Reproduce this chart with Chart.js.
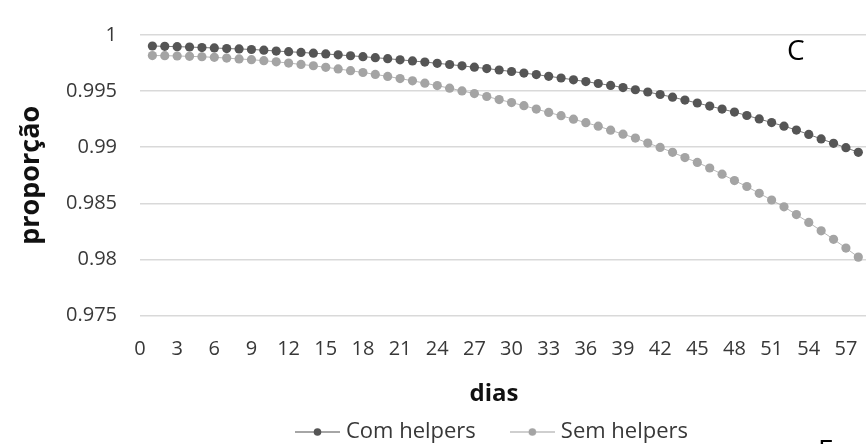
<!DOCTYPE html>
<html>
<head>
<meta charset="utf-8">
<script src="https://cdn.jsdelivr.net/npm/chart.js@4"></script>
<style>
  html, body { margin: 0; padding: 0; background: #ffffff; overflow: hidden; }
  #wrap { position: absolute; left: 0; top: 0; width: 988px; height: 453px; }
</style>
</head>
<body>
<div id="wrap"><canvas id="c" width="988" height="453"></canvas></div>
<script>
// ---- data ----
const days = [1,2,3,4,5,6,7,8,9,10,11,12,13,14,15,16,17,18,19,20,21,22,23,24,25,26,27,28,29,30,
              31,32,33,34,35,36,37,38,39,40,41,42,43,44,45,46,47,48,49,50,51,52,53,54,55,56,57,58];
const comHelpers = [0.99902,0.99899,0.99896,0.99893,0.99888,0.99885,0.99879,0.99876,0.99871,0.99865,
                    0.99857,0.99851,0.99845,0.99838,0.99831,0.99823,0.99815,0.99807,0.99798,0.99789,
                    0.99779,0.99769,0.99759,0.99748,0.99737,0.99725,0.99713,0.99701,0.99688,0.99675,
                    0.99661,0.99647,0.99632,0.99617,0.99601,0.99585,0.99568,0.99551,0.99532,0.99512,
                    0.99492,0.99470,0.99446,0.99420,0.99394,0.99367,0.99340,0.99313,0.99283,0.99252,
                    0.99220,0.99188,0.99153,0.99114,0.99074,0.99035,0.98996,0.98955];
const semHelpers = [0.99817,0.99816,0.99813,0.99810,0.99806,0.99801,0.99794,0.99787,0.99780,0.99771,
                    0.99761,0.99750,0.99738,0.99726,0.99712,0.99698,0.99682,0.99666,0.99649,0.99631,
                    0.99612,0.99592,0.99571,0.99549,0.99526,0.99502,0.99478,0.99452,0.99425,0.99398,
                    0.99370,0.99340,0.99310,0.99281,0.99250,0.99219,0.99188,0.99152,0.99116,0.99082,
                    0.99037,0.98998,0.98955,0.98908,0.98865,0.98815,0.98760,0.98703,0.98650,0.98589,
                    0.98530,0.98469,0.98400,0.98330,0.98255,0.98180,0.98102,0.98021];
const seriesNames = ['Com helpers', 'Sem helpers'];
const yTicks = [0.975, 0.98, 0.985, 0.99, 0.995, 1];
const xTickStep = 3;
const xAxisTitle = 'dias';
const yAxisTitle = 'proporção';
const panelLetter = 'C';
const footText = 'E';

// ---- styles ----
const darkCol = '#555555';
const lightCol = '#a4a4a4';
const textCol = '#383838';
const FONT = '"Open Sans", "Liberation Sans", sans-serif';

function legendIcon(color) {
  const c = document.createElement('canvas');
  c.width = 45; c.height = 12;
  const g = c.getContext('2d');
  g.strokeStyle = color; g.globalAlpha = 0.7; g.lineWidth = 1.5;
  g.beginPath(); g.moveTo(0, 6); g.lineTo(45, 6); g.stroke();
  g.globalAlpha = 1; g.fillStyle = color;
  g.beginPath(); g.arc(22.5, 6, 3.8, 0, Math.PI * 2); g.fill();
  return c;
}
const icons = [legendIcon(darkCol), legendIcon(lightCol)];

const notes = {
  id: 'notes',
  afterDraw(chart) {
    const ctx = chart.ctx;
    ctx.save();
    ctx.fillStyle = '#000000';
    ctx.font = '28px ' + FONT;
    ctx.textAlign = 'left';
    ctx.textBaseline = 'alphabetic';
    ctx.fillText(panelLetter, 787, 60);
    ctx.fillText(footText, 818, 460);
    ctx.restore();
  }
};

new Chart(document.getElementById('c'), {
  type: 'line',
  data: {
    datasets: [
      {
        label: seriesNames[0],
        data: days.map((d, i) => ({ x: d, y: comHelpers[i] })),
        borderColor: darkCol,
        borderWidth: 0.8,
        backgroundColor: darkCol,
        pointBackgroundColor: darkCol,
        pointBorderWidth: 0,
        pointRadius: 4.6,
        tension: 0
      },
      {
        label: seriesNames[1],
        data: days.map((d, i) => ({ x: d, y: semHelpers[i] })),
        borderColor: lightCol,
        borderWidth: 0.8,
        backgroundColor: lightCol,
        pointBackgroundColor: lightCol,
        pointBorderWidth: 0,
        pointRadius: 4.6,
        tension: 0
      }
    ]
  },
  options: {
    responsive: false,
    animation: false,
    devicePixelRatio: 1,
    layout: { padding: { top: 20, left: 0, right: 0, bottom: 0 } },
    plugins: {
      tooltip: { enabled: false },
      title: {
        display: true,
        text: xAxisTitle,
        position: 'bottom',
        weight: 500,
        color: '#111111',
        font: { family: FONT, size: 24, weight: 'bold' },
        padding: { top: 18, bottom: -26.4 }
      },
      legend: {
        display: true,
        position: 'bottom',
        labels: {
          color: textCol,
          font: { family: FONT, size: 22 },
          usePointStyle: true,
          pointStyleWidth: 35,
          padding: 39,
          generateLabels(chart) {
            const items = Chart.defaults.plugins.legend.labels.generateLabels(chart);
            items.forEach((it, i) => { it.pointStyle = icons[i]; });
            return items;
          }
        }
      }
    },
    scales: {
      x: {
        type: 'linear',
        min: 0,
        max: 68.1,
        grid: { display: false, drawTicks: true, tickLength: 22 },
        border: { display: false },
        ticks: {
          stepSize: xTickStep,
          includeBounds: false,
          padding: 0,
          color: textCol,
          font: { family: FONT, size: 20 },
          maxRotation: 0,
          autoSkip: false
        }
      },
      y: {
        min: yTicks[0],
        max: yTicks[yTicks.length - 1],
        afterFit(scale) { scale.width = 140; },
        afterBuildTicks(scale) { scale.ticks = yTicks.map(v => ({ value: v })); },
        grid: { color: '#d9d9d9', lineWidth: 1.5, drawTicks: false },
        border: { display: false },
        title: {
          display: true,
          text: yAxisTitle,
          color: '#111111',
          font: { family: FONT, size: 27, weight: 'bold' },
          padding: { top: 15, bottom: 0 }
        },
        ticks: {
          padding: 23,
          color: textCol,
          font: { family: FONT, size: 20 },
          callback: (v) => String(Number(v.toFixed(3)))
        }
      }
    }
  },
  plugins: [notes]
});
</script>
</body>
</html>
